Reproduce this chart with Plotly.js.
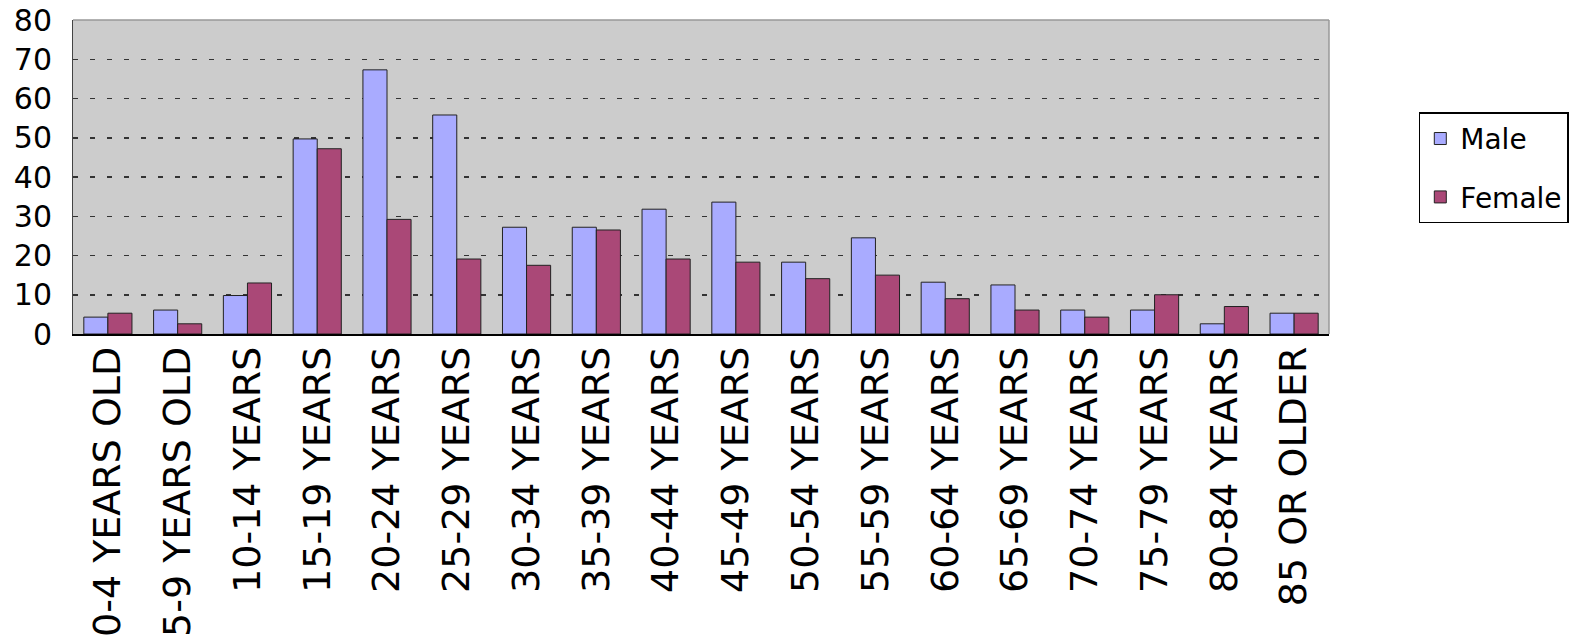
<!DOCTYPE html>
<html>
<head>
<meta charset="utf-8">
<script src="https://cdn.plot.ly/plotly-3.0.1.min.js"></script>
<style>html,body{margin:0;padding:0;background:#fff;}#chart{width:1569px;height:636px;}</style>
</head>
<body>
<div id="chart"></div>
<script>
const categories = ["0-4 YEARS OLD","5-9 YEARS OLD","10-14 YEARS","15-19 YEARS","20-24 YEARS","25-29 YEARS","30-34 YEARS","35-39 YEARS","40-44 YEARS","45-49 YEARS","50-54 YEARS","55-59 YEARS","60-64 YEARS","65-69 YEARS","70-74 YEARS","75-79 YEARS","80-84 YEARS","85 OR OLDER"];
const maleValues =   [4.3, 6.1, 9.8, 49.7, 67.3, 55.8, 27.2, 27.2, 31.8, 33.6, 18.3, 24.5, 13.2, 12.5, 6.1, 6.1, 2.6, 5.3];
const femaleValues = [5.3, 2.6, 13.0, 47.2, 29.2, 19.1, 17.5, 26.5, 19.1, 18.3, 14.1, 15.0, 9.0, 6.1, 4.3, 10.0, 7.0, 5.3];
const seriesNames = ["Male", "Female"];
const yTicks = [0,10,20,30,40,50,60,70,80];

const FONT = "DejaVu Sans, Verdana, sans-serif";

const traces = [
  {type:'bar', name:seriesNames[0], x:categories, y:maleValues, legendgroup:'m',
   marker:{color:'#a9abff', line:{color:'#222', width:1}}, hoverinfo:'x+y'},
  {type:'bar', name:seriesNames[1], x:categories, y:femaleValues, legendgroup:'f',
   marker:{color:'#aa4877', line:{color:'#222', width:1}}, hoverinfo:'x+y'}
];

const layout = {
  width:1569, height:636,
  margin:{l:73, r:240, t:20, b:302, autoexpand:false},
  paper_bgcolor:'#ffffff',
  plot_bgcolor:'#cccccc',
  barmode:'group',
  bargap:0.31,
  bargroupgap:0,
  font:{family:FONT, color:'#000'},
  xaxis:{
    type:'category',
    tickangle:-90,
    tickfont:{family:FONT, size:38, color:'#000'},
    showline:true, linecolor:'#000', linewidth:1.5,
    showgrid:false, ticks:'', ticklabelstandoff:-4,
    automargin:false, fixedrange:true
  },
  yaxis:{
    range:[0,80],
    tickvals:yTicks,
    tickfont:{family:FONT, size:30, color:'#000'},
    showline:true, linecolor:'#444', linewidth:1,
    showgrid:true, gridcolor:'#333', gridwidth:1.5, griddash:'5px,12px',
    zeroline:false, ticks:'', ticklabelstandoff:14,
    automargin:false, fixedrange:true
  },
  legend:{
    x:1.0715, y:0.706, xanchor:'left', yanchor:'top',
    bordercolor:'#000', borderwidth:1.5, bgcolor:'#fff',
    font:{family:FONT, size:28, color:'#000'},
    traceorder:'grouped', tracegroupgap:19
  },
  shapes:[
    {type:'line', xref:'paper', yref:'paper', x0:0, x1:1, y0:1, y1:1, line:{color:'#999', width:1.5}},
    {type:'line', xref:'paper', yref:'paper', x0:1, x1:1, y0:0, y1:1, line:{color:'#999', width:1.5}}
  ],
  showlegend:true
};

Plotly.newPlot('chart', traces, layout, {displayModeBar:false, staticPlot:true});
</script>
</body>
</html>
